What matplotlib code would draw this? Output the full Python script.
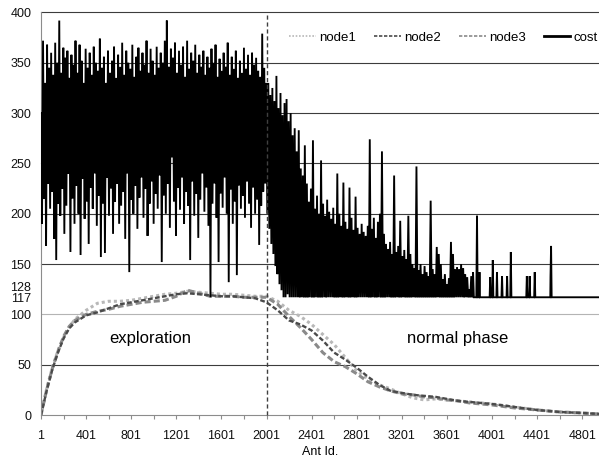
import numpy as np
import matplotlib
matplotlib.use('Agg')
import matplotlib.pyplot as plt
from matplotlib.lines import Line2D

plt.rcParams['font.family'] = ['Liberation Sans', 'DejaVu Sans']

# ---------------- data ----------------
# node curves, sampled by ant id
node_ids = [1, 51, 101, 151, 201, 251, 301, 401, 501, 601, 701, 801, 901, 1001, 1101,
            1201, 1301, 1401, 1501, 1601, 1701, 1801, 1901, 2001, 2101, 2201, 2301, 2401,
            2501, 2601, 2701, 2801, 2901, 3001, 3101, 3201, 3301, 3401, 3501, 3601, 3701,
            3801, 3901, 4001, 4201, 4401, 4601, 4801, 4950]
node1 = [0, 26, 47, 64, 77, 87, 95,
         104, 111, 113, 113, 114, 116, 118, 120, 121, 123, 122, 121, 120, 120, 119, 118, 118,
         113, 104, 98, 90, 80, 70, 57, 44, 36, 30, 26, 21, 17, 15, 16, 15, 14, 13, 12, 11,
         8, 5, 3, 2, 1]
node2 = [0, 24, 45, 62, 76, 86, 92,
         99, 102, 106, 110, 112, 114, 116, 118, 120, 121, 120, 119, 118, 118, 117, 116, 112,
         104, 94, 90, 84, 74, 62, 55, 47, 38, 30, 24, 22, 20, 19, 18, 16, 14, 13, 12, 11,
         8, 5, 3, 2, 1]
node3 = [0, 25, 46, 63, 78, 88, 94,
         100, 103, 105, 108, 110, 112, 113, 114, 118, 124, 121, 118, 118, 118, 117, 117, 117,
         110, 98, 87, 75, 62, 53, 48, 41, 33, 28, 24, 21, 20, 18, 17, 15, 14, 12, 11, 10,
         7, 5, 3, 2, 1]

# cost, dense part: one reading every 9 ants starting at ant 1 (exploration phase)
cost_explore = [
    300, 190, 372, 215, 330, 168, 368, 230, 345, 205, 360, 222, 338, 175, 370, 154, 350, 210, 392, 198,
    340, 225, 365, 180, 355, 208, 362, 240, 335, 162, 358, 215, 348, 190, 372, 228, 340, 200, 368, 159,
    352, 235, 330, 195, 364, 212, 345, 170, 360, 226, 338, 205, 366, 240, 350, 188, 342, 218, 374, 157,
    345, 210, 356, 161, 330, 236, 362, 198, 340, 225, 352, 180, 366, 212, 335, 230, 358, 190, 346, 208,
    370, 222, 338, 175, 362, 240, 350, 142, 344, 214, 368, 200, 336, 228, 356, 185, 365, 216, 342, 236,
    360, 196, 348, 225, 372, 178, 340, 210, 364, 232, 352, 190, 338, 220, 366, 205, 345, 238, 360, 152,
    350, 218, 372, 200, 392, 230, 346, 186, 364, 256, 355, 212, 370, 178, 340, 226, 362, 204, 348, 236,
    366, 190, 336, 222, 372, 208, 344, 154, 360, 232, 352, 198, 368, 220, 340, 176, 358, 214, 346, 240,
    362, 202, 338, 226, 356, 188, 345, 117, 364, 210, 350, 230, 368, 196, 336, 152, 354, 220, 342, 206,
    360, 236, 346, 200, 370, 132, 338, 224, 356, 190, 344, 212, 362, 139, 335, 228, 352, 205, 340, 218,
    365, 196, 344, 232, 358, 210, 338, 186, 360, 226, 348, 200, 355, 214, 342, 169, 336, 208, 379, 222,
    345, 230, 330]
# cost, dense part continued (normal phase, same 9-ant spacing)
cost_normal = [
    200, 330, 185, 318, 170, 325, 160, 312, 148, 337,
    140, 305, 130, 320, 124, 298, 117, 310, 117, 314,
    120, 292, 117, 300, 117, 278, 117, 285, 117, 262,
    117, 283, 117, 245, 117, 238, 117, 268, 117, 230,
    117, 212, 117, 225, 117, 273, 117, 205, 117, 218,
    117, 200, 117, 253, 117, 210, 117, 198, 117, 214,
    117, 202, 117, 195, 117, 206, 117, 190, 117, 240,
    117, 200, 117, 188, 117, 231, 117, 192, 117, 185,
    117, 226, 117, 196, 117, 184, 117, 217, 117, 186,
    117, 180, 117, 190, 117, 182, 117, 178, 117, 188,
    117, 274, 117, 185, 117, 196, 117, 176, 117, 192,
    117, 200, 117, 262, 117, 180, 117, 170, 117, 165,
    117, 172, 117, 160, 117, 238, 117, 162, 117, 168,
    117, 193, 117, 158, 117, 164, 117, 155, 117, 198,
    117, 160, 117, 150, 117, 146, 117, 247, 117, 144,
    117, 150, 117, 140, 117, 148, 117, 142, 117, 138,
    117, 213, 117, 145, 117, 140]
cost_step = 9
# cost, sparse tail: (ant id, cost)
cost_tail = [
    (3502, 117), (3511, 167), (3520, 117), (3529, 160), (3538, 117), (3547, 150), (3556, 117),
    (3565, 135), (3574, 117), (3583, 140), (3592, 117), (3601, 130), (3610, 117), (3619, 136),
    (3628, 117), (3637, 172), (3646, 117), (3655, 160), (3664, 117), (3673, 145), (3682, 117),
    (3691, 147), (3700, 117), (3709, 145), (3718, 117), (3727, 150), (3736, 117), (3745, 146),
    (3754, 117), (3763, 140), (3772, 117), (3781, 137), (3790, 117), (3799, 125), (3808, 117),
    (3817, 138), (3826, 117), (3833, 142), (3840, 117),
    (3862, 117), (3868, 198), (3874, 117),
    (3886, 117), (3890, 142), (3894, 117),
    (3980, 117), (3985, 137), (3990, 117),
    (4003, 117), (4008, 154), (4013, 117),
    (4040, 117), (4045, 142), (4050, 117),
    (4085, 117), (4090, 138), (4095, 117),
    (4130, 117), (4135, 138), (4140, 117),
    (4163, 117), (4168, 162), (4173, 117),
    (4305, 117), (4310, 138), (4315, 117),
    (4330, 117), (4335, 138), (4340, 117),
    (4375, 117), (4380, 142), (4385, 117),
    (4518, 117), (4520, 138), (4525, 168), (4530, 117),
    (4950, 117)]

y_ticks = [0, 50, 100, 117, 128, 150, 200, 250, 300, 350, 400]
x_tick_labels = ['1', '401', '801', '1201', '1601', '2001', '2401', '2801',
                 '3201', '3601', '4001', '4401', '4801']
phase_switch = 2001

# ---------------- figure ----------------
fig = plt.figure(figsize=(5.99, 4.61), dpi=100)
ax = fig.add_axes([41 / 599, 46 / 461, 558 / 599, 402.5 / 461])
ax.set_xlim(1, 4950)
ax.set_ylim(0, 400)

# gridlines
for v in [50, 150, 200, 250, 300, 350, 400]:
    ax.axhline(v, color='#3c3c3c', lw=0.8, zorder=0.5, clip_on=False)
ax.axhline(100, color='#b4b4b4', lw=0.8, zorder=0.5)

# node curves
ax.plot(node_ids, node1, color='#b8b8b8', ls=(0, (1, 1)), lw=2.2, zorder=2)
ax.plot(node_ids, node3, color='#8a8a8a', ls=(0, (2, 1)), lw=2.2, zorder=2)
ax.plot(node_ids, node2, color='#4a4a4a', ls=(0, (2, 1)), lw=1.7, zorder=2)

# cost
dense = cost_explore + cost_normal
cost_x = list(1 + cost_step * np.arange(len(dense))) + [p[0] for p in cost_tail]
cost_y = dense + [p[1] for p in cost_tail]
ax.plot(cost_x, cost_y, color='black', lw=1.35, zorder=3, solid_joinstyle='miter')

# phase separator
ax.plot([phase_switch, phase_switch], [0, 400], color='#404040', ls=(0, (3, 2)),
        lw=1.0, zorder=4, clip_on=False)

ax.text(967, 76, 'exploration', ha='center', va='center', fontsize=12)
ax.text(3699, 76, 'normal phase', ha='center', va='center', fontsize=12)

# axes styling
for s in ['top', 'right']:
    ax.spines[s].set_visible(False)
for s in ['left', 'bottom']:
    ax.spines[s].set_color('#8c8c8c')
    ax.spines[s].set_linewidth(0.8)

ax.set_yticks(y_ticks)
ax.set_yticklabels([str(v) for v in y_ticks])
ax.tick_params(axis='y', length=0, pad=7, labelsize=9, labelcolor='#111111')

ax.set_xticks([int(t) for t in x_tick_labels])
ax.set_xticklabels(x_tick_labels)
ax.set_xticks([int(t) + 200 for t in x_tick_labels[:-1]], minor=True)
ax.tick_params(axis='x', which='both', length=3, width=0.8, color='#8c8c8c',
               direction='out')
ax.tick_params(axis='x', which='major', pad=8, labelsize=9, labelcolor='#111111')
ax.set_xlabel('Ant Id.', fontsize=9, labelpad=3)

handles = [Line2D([], [], color='#b8b8b8', ls=(0, (1, 1)), lw=1.2),
           Line2D([], [], color='#4a4a4a', ls=(0, (2, 1)), lw=1.2),
           Line2D([], [], color='#8a8a8a', ls=(0, (2, 1)), lw=1.2),
           Line2D([], [], color='black', lw=2.0)]
fig.legend(handles, ['node1', 'node2', 'node3', 'cost'], loc='center right',
           bbox_to_anchor=(598 / 599, (461 - 38) / 461), ncol=4, frameon=False,
           fontsize=9.5, handlelength=2.0, handletextpad=0.25, columnspacing=1.4,
           borderpad=0, borderaxespad=0)

fig.savefig('out.png', dpi=100)
